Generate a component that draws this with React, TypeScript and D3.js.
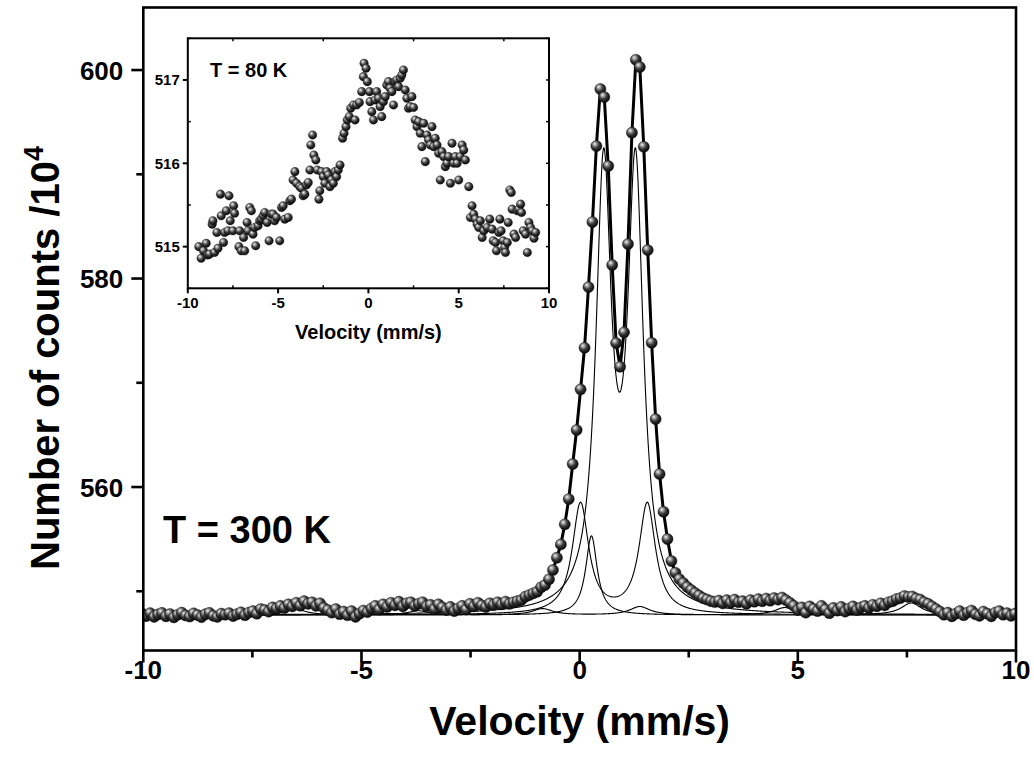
import React from 'react';
import * as d3 from 'd3';

// ---- Main spectrum (T = 300 K): evenly spaced velocity channels ----
const V_START = -10.024;
const V_STEP = 0.0905;
const counts300: number[] = [
  547.85, 547.62, 547.90, 547.55, 547.78, 547.92, 547.60, 547.82, 547.50, 547.75,
  547.95, 547.68, 547.58, 547.88, 547.72, 547.52, 547.80, 547.93, 547.65, 547.55,
  547.85, 547.75, 547.90, 547.62, 547.80, 547.98, 547.70,
  547.95, 548.10, 547.85, 548.30, 548.20, 548.05, 548.45, 548.35, 548.60, 548.40,
  548.75, 548.55, 548.90, 548.62, 549.05, 548.80, 548.95, 548.60, 548.85, 548.40,
  548.20, 547.95, 548.30, 547.80, 548.05, 547.70, 548.10, 547.55, 547.85, 548.15, 548.00,
  548.35, 548.60, 548.25, 548.75, 548.50, 548.90, 548.65, 549.00, 548.55, 548.85, 548.95, 548.60, 548.80,
  548.95, 548.55, 548.70, 548.30, 548.75, 548.45, 548.20, 548.50, 548.10, 548.35, 548.60, 548.25,
  548.80, 548.55, 548.90, 548.65, 548.50, 548.85, 548.70, 548.95, 548.75, 549.00, 548.80,
  548.95, 549.05, 549.16, 549.48, 549.64, 549.80, 549.96, 550.38, 550.60, 551.15,
  552.04, 553.22, 554.50, 556.42, 558.85, 562.21, 565.47, 569.37, 573.36, 579.18,
  585.42, 592.71, 598.18, 597.41, 590.79, 581.30, 573.81, 571.54, 574.84, 583.31,
  593.99, 600.99, 600.29, 592.64, 582.73, 573.84, 566.52, 561.25, 557.63, 555.01,
  552.90, 551.78,
  551.17, 550.79, 550.41, 550.12, 549.83, 549.59, 549.35, 549.21, 549.06, 548.97,
  549.10, 548.85, 549.15, 548.90, 549.20, 548.95, 549.05, 548.80, 549.15, 549.00,
  549.25, 549.05, 549.30, 549.10, 549.35, 549.20, 549.40, 549.15, 548.90, 548.60,
  548.20, 548.45, 547.95, 548.55, 548.30, 548.10, 548.60, 548.25, 547.90, 548.40,
  548.15, 548.50, 548.05, 548.35, 548.55, 548.20, 548.45, 548.60,
  548.40, 548.70, 548.55, 548.85, 548.65, 548.95, 549.05, 549.25, 549.35, 549.55,
  549.45, 549.50, 549.30, 549.20, 548.95, 548.80, 548.55,
  548.30, 548.05, 547.75, 547.95, 547.60, 547.85, 548.10, 547.70, 547.95, 548.15,
  547.80, 547.65, 548.05, 547.85, 547.60, 547.95, 548.10, 547.75, 547.90, 547.65, 547.85,
];

// ---- Fitted subspectra (Lorentzian lines on a common baseline) ----
const fitBaseline = 547.72;
const doubletA_centers = [0.55, 1.28];
const doubletA_depths = [41.5, 41.5];
const doubletA_hwhm = [0.215, 0.215];
const doubletB_centers = [0.02, 1.55];
const doubletB_depths = [10.6, 10.6];
const doubletB_hwhm = [0.228, 0.228];
const singletC_centers = [0.27];
const singletC_depths = [7.6];
const singletC_hwhm = [0.16];
const sextetD_centers = [-6.5, -3.7, -0.85, 1.38, 4.7, 7.6];
const sextetD_depths = [0.55, 0.4, 0.6, 0.8, 0.7, 1.15];
const sextetD_hwhm = [0.28, 0.28, 0.28, 0.28, 0.28, 0.28];

// ---- Inset spectrum (T = 80 K) ----
const inset80V: number[] = [
  -9.39, -9.26, -9.13, -8.98, -8.89, -8.80, -8.65, -8.61, -8.52, -8.33,
  -8.39, -8.15, -8.02, -7.96, -7.87, -7.78, -8.19, -7.72, -7.65, -7.50,
  -7.46, -7.41, -7.17, -7.13, -7.04, -6.85, -6.91, -6.72, -6.67, -6.57,
  -6.48, -6.39, -6.24, -6.30, -6.11, -6.02, -5.93, -5.83, -5.74, -5.61,
  -5.50, -5.37, -5.28, -5.19, -5.09, -4.91, -4.81, -4.72, -4.63, -4.44,
  -4.35, -4.26, -4.17, -4.07, -3.98, -3.80, -3.70, -3.61, -3.52, -3.43,
  -3.33, -3.24, -3.19, -3.09, -3.02, -2.91, -2.83, -2.74, -2.69, -2.59,
  -2.50, -2.41, -2.31, -2.22, -2.13, -2.04, -1.94, -1.85, -1.76, -1.67,
  -1.57, -1.43, -1.35, -1.24, -1.17, -1.06, -0.98, -0.83, -0.74, -0.65,
  -0.50, -0.37, -0.28, -0.24, -0.13, -0.06, 0.06, 0.09, 0.19, 0.28,
  0.37, 0.46, 0.56, 0.65, 0.74, 0.83, 0.93, 1.02, 1.11, 1.20,
  1.30, 1.39, 1.48, 1.57, 1.67, 1.76, 1.85, 1.94, 2.04, 2.13,
  2.22, 2.31, 2.41, 2.50, 2.59, 2.69, 2.78, 2.87, 2.96, 3.06,
  3.15, 3.24, 3.33, 3.43, 3.52, 3.61, 3.70, 3.80, 3.89, 3.98,
  4.07, 4.17, 4.26, 4.35, 4.44, 4.54, 4.63, 4.72, 4.81, 4.91,
  5.00, 5.09, 5.19, 5.28, 5.37, 5.56, 5.74, 5.65, 5.83, 5.93,
  6.02, 6.11, 6.20, 6.30, 6.39, 6.57, 6.72, 6.85, 6.91, 7.04,
  7.09, 7.22, 7.28, 7.35, 7.46, 7.54, 7.59, 7.69, 7.74, 7.83,
  7.91, 7.96, 8.06, 8.15, 8.24, 8.33, 8.43, 8.48, 8.57, 8.70,
  8.80, 8.89, 8.98, 9.07, 9.17, 9.26,
];
const inset80C: number[] = [
  515.00, 514.86, 514.95, 515.04, 514.90, 514.91, 515.27, 515.31, 514.93, 514.98,
  515.17, 515.37, 515.05, 515.17, 515.43, 515.19, 515.63, 515.61, 515.31, 515.19,
  515.49, 515.40, 515.00, 515.19, 514.95, 514.95, 515.11, 515.29, 515.19, 515.47,
  515.43, 515.15, 515.01, 515.23, 515.25, 515.31, 515.33, 515.37, 515.41, 515.29,
  515.07, 515.39, 515.39, 515.31, 515.35, 515.07, 515.47, 515.49, 515.33, 515.35,
  515.55, 515.57, 515.80, 515.90, 515.76, 515.72, 515.70, 515.61, 515.63, 515.74,
  515.77, 515.92, 516.22, 516.34, 516.10, 516.04, 515.92, 515.57, 515.67, 515.90,
  515.84, 515.76, 515.90, 515.86, 515.72, 515.80, 515.76, 515.90, 515.84, 515.92,
  515.98, 516.30, 516.36, 516.44, 516.52, 516.56, 516.66, 516.70, 516.52, 516.70,
  516.73, 516.86, 517.04, 517.20, 517.14, 516.98, 516.86, 516.74, 516.62, 516.52,
  516.76, 516.86, 516.78, 516.68, 516.56, 516.74, 516.80, 516.94, 516.98, 516.90,
  516.86, 516.70, 516.98, 517.00, 516.92, 517.02, 517.06, 517.12, 516.88, 516.78,
  516.66, 516.68, 516.80, 516.67, 516.52, 516.44, 516.50, 516.36, 516.20, 516.48,
  516.02, 516.34, 516.28, 516.22, 516.44, 516.20, 516.30, 516.22, 516.12, 515.80,
  516.14, 516.08, 515.96, 516.00, 516.08, 515.76, 516.24, 516.00, 516.08, 516.00,
  515.80, 516.08, 516.22, 516.16, 516.04, 515.72, 515.49, 515.35, 515.39, 515.33,
  515.27, 515.23, 515.31, 515.11, 515.19, 515.23, 515.33, 515.21, 515.07, 515.05,
  514.95, 515.17, 515.33, 515.19, 515.07, 514.99, 514.93, 515.05, 515.29, 515.68,
  515.65, 515.45, 515.15, 515.11, 515.43, 515.45, 515.51, 515.41, 515.19, 515.15,
  514.93, 515.29, 515.23, 515.19, 515.10, 515.17,
];

// ---- Ticks ----
const mainXMajor = [-10, -5, 0, 5, 10];
const mainXMinor = [-7.5, -2.5, 2.5, 7.5];
const mainYMajor = [560, 580, 600];
const mainYMinor = [550, 570, 590];
const insetXMajor = [-10, -5, 0, 5, 10];
const insetXMinor = [-7.5, -2.5, 2.5, 7.5];
const insetYMajor = [515, 516, 517];
const insetYMinor = [514.5, 515.5, 516.5, 517.5];

const FONT = "'Liberation Sans', Arial, Helvetica, sans-serif";

function lorentzSum(v: number, c: number[], d: number[], w: number[]) {
  let s = 0;
  for (let k = 0; k < c.length; k++) {
    const t = (v - c[k]) / w[k];
    s += d[k] / (1 + t * t);
  }
  return s;
}

export default function App() {
  const W = 1034, H = 766;
  const L = 143.3, R = 1016, T = 7.5, B = 650.5;
  const x = d3.scaleLinear().domain([-10, 10]).range([L, R]);
  const y = d3.scaleLinear().domain([544.32, 606.0]).range([B, T]);

  const iL = 187.8, iR = 549, iT = 38.3, iB = 288.3;
  const xi = d3.scaleLinear().domain([-10, 10]).range([iL, iR]);
  const yi = d3.scaleLinear().domain([514.5, 517.5]).range([iB, iT]);

  const pts = counts300.map((c, i) => ({ v: V_START + i * V_STEP, c }));
  const dataLine = d3.line<{ v: number; c: number }>().x(d => x(d.v)).y(d => y(d.c))(pts) || '';

  const grid = d3.range(-10, 10.0001, 0.01);
  const comps = [
    [doubletA_centers, doubletA_depths, doubletA_hwhm],
    [doubletB_centers, doubletB_depths, doubletB_hwhm],
    [singletC_centers, singletC_depths, singletC_hwhm],
    [sextetD_centers, sextetD_depths, sextetD_hwhm],
  ];
  const compPaths = comps.map(([c, d, w]) =>
    d3.line<number>().x(v => x(v)).y(v => y(fitBaseline + lorentzSum(v, c, d, w)))(grid) || ''
  );

  const ins = inset80V.map((v, i) => ({ v, c: inset80C[i] }));

  return (
    <svg width={W} height={H} style={{ position: 'absolute', left: 0, top: 0, background: '#fff' }}
      fontFamily={FONT}>
      <defs>
        <radialGradient id="ball" cx="0.42" cy="0.38" r="0.62" fx="0.34" fy="0.3">
          <stop offset="0" stopColor="#f4f4f4" />
          <stop offset="0.22" stopColor="#a8a8a8" />
          <stop offset="0.55" stopColor="#3a3a3a" />
          <stop offset="1" stopColor="#050505" />
        </radialGradient>
        <clipPath id="mainClip">
          <rect x={L} y={T} width={R - L} height={B - T} />
        </clipPath>
      </defs>
      <rect x={0} y={0} width={W} height={H} fill="#fff" />

      {/* main plot content */}
      <g clipPath="url(#mainClip)">
        {compPaths.map((p, i) => (
          <path key={i} d={p} fill="none" stroke="#000" strokeWidth={1.1} />
        ))}
        <path d={dataLine} fill="none" stroke="#000" strokeWidth={3} strokeLinejoin="round" />
        {pts.map((d, i) => (
          <circle key={i} cx={x(d.v)} cy={y(d.c)} r={5.6} fill="url(#ball)" stroke="#111" strokeWidth={0.4} />
        ))}
      </g>

      {/* main frame */}
      <rect x={L} y={T} width={R - L} height={B - T} fill="none" stroke="#000" strokeWidth={2.6} />
      {mainXMajor.map(t => (
        <line key={'xM' + t} x1={x(t)} x2={x(t)} y1={B} y2={B + 12} stroke="#000" strokeWidth={2.6} />
      ))}
      {mainXMinor.map(t => (
        <line key={'xm' + t} x1={x(t)} x2={x(t)} y1={B} y2={B + 7} stroke="#000" strokeWidth={2.6} />
      ))}
      {mainYMajor.map(t => (
        <line key={'yM' + t} x1={L - 12} x2={L} y1={y(t)} y2={y(t)} stroke="#000" strokeWidth={2.6} />
      ))}
      {mainYMinor.map(t => (
        <line key={'ym' + t} x1={L - 7} x2={L} y1={y(t)} y2={y(t)} stroke="#000" strokeWidth={2.6} />
      ))}
      {mainXMajor.map(t => (
        <text key={'xl' + t} x={x(t)} y={B + 28} textAnchor="middle" fontSize={26} fontWeight="bold">
          {t < 0 ? '-' + Math.abs(t) : String(t)}
        </text>
      ))}
      {mainYMajor.map(t => (
        <text key={'yl' + t} x={L - 20} y={y(t) + 9.5} textAnchor="end" fontSize={26} fontWeight="bold">
          {t}
        </text>
      ))}
      <text x={(L + R) / 2} y={735} textAnchor="middle" fontSize={41} fontWeight="bold">Velocity (mm/s)</text>
      <text transform={`translate(59, 358) rotate(-90)`} textAnchor="middle" fontSize={40} fontWeight="bold">
        Number of counts /10<tspan fontSize={27} dy={-16}>4</tspan>
      </text>
      <text x={163} y={543} fontSize={38} fontWeight="bold">T = 300 K</text>

      {/* inset */}
      <rect x={iL} y={iT} width={iR - iL} height={iB - iT} fill="#fff" stroke="#000" strokeWidth={2} />
      {ins.map((d, i) => (
        <circle key={i} cx={xi(d.v)} cy={yi(d.c)} r={4.3} fill="url(#ball)" stroke="#111" strokeWidth={0.3} />
      ))}
      {insetXMajor.map(t => (
        <line key={'ixM' + t} x1={xi(t)} x2={xi(t)} y1={iB} y2={iB + 5} stroke="#000" strokeWidth={2} />
      ))}
      {insetXMinor.map(t => (
        <g key={'ixm' + t}>
          <line x1={xi(t)} x2={xi(t)} y1={iB} y2={iB - 3} stroke="#000" strokeWidth={1.5} />
          <line x1={xi(t)} x2={xi(t)} y1={iT} y2={iT + 3} stroke="#000" strokeWidth={1.5} />
        </g>
      ))}
      {insetYMajor.map(t => (
        <g key={'iyM' + t}>
          <line x1={iL - 5} x2={iL} y1={yi(t)} y2={yi(t)} stroke="#000" strokeWidth={2} />
          <line x1={iR} x2={iR - 3} y1={yi(t)} y2={yi(t)} stroke="#000" strokeWidth={1.5} />
        </g>
      ))}
      {insetYMinor.map(t => (
        <g key={'iym' + t}>
          <line x1={iL} x2={iL + 3} y1={yi(t)} y2={yi(t)} stroke="#000" strokeWidth={1.5} />
          <line x1={iR} x2={iR - 3} y1={yi(t)} y2={yi(t)} stroke="#000" strokeWidth={1.5} />
        </g>
      ))}
      {insetXMajor.map(t => (
        <text key={'ixl' + t} x={xi(t)} y={iB + 20} textAnchor="middle" fontSize={15} fontWeight="bold">
          {t < 0 ? '-' + Math.abs(t) : String(t)}
        </text>
      ))}
      {insetYMajor.map(t => (
        <text key={'iyl' + t} x={iL - 8} y={yi(t) + 5.5} textAnchor="end" fontSize={15} fontWeight="bold">
          {t}
        </text>
      ))}
      <text x={(iL + iR) / 2} y={339} textAnchor="middle" fontSize={20} fontWeight="bold">Velocity (mm/s)</text>
      <text x={210} y={77} fontSize={20} fontWeight="bold">T = 80 K</text>
    </svg>
  );
}
